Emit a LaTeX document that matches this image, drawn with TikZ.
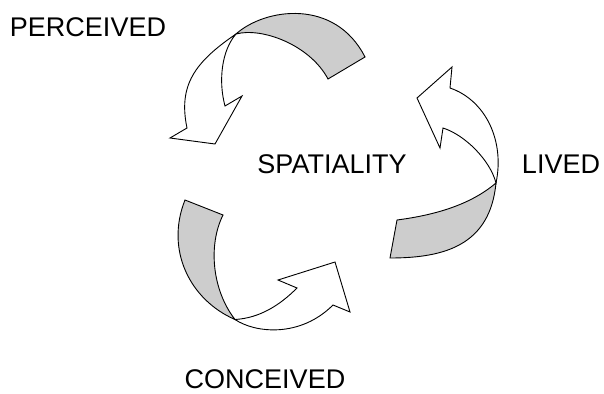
\documentclass[tikz,border=0pt]{standalone}
\usepackage{fontspec}
\setmainfont{Liberation Sans}
\definecolor{ribbongray}{RGB}{205,205,205}
\begin{document}
\begin{tikzpicture}[x=1pt,y=-1pt,
  ribbon/.style={draw=black,line width=0.9pt,line join=miter},
  face/.style={ribbon,fill=white},
  back/.style={ribbon,fill=ribbongray},
  label/.style={inner sep=0pt,font=\fontsize{27}{32}\selectfont}]
\useasboundingbox (0,0) rectangle (604,393);

% labels
\node[label] (perceived) at (88,27.5) {PERCEIVED};
\node[label] (spatiality) at (332,164) {SPATIALITY};
\node[label] (lived) at (561,164) {LIVED};
\node[label] (conceived) at (265,379) {CONCEIVED};

% named corners of the three ribbons
\coordinate (tc) at (236,34);
\coordinate (rc) at (496,183);
\coordinate (bc) at (235,319.5);

% upper ribbon, turning down towards the left
\draw[face] (tc) .. controls (195,62) and (178,85) .. (187,128)
  -- (170,138) -- (215,144) -- (242,96) -- (225,106)
  .. controls (218,80) and (222,50) .. (tc) -- cycle;
\draw[back] (tc) .. controls (265,8) and (335,-2) .. (365,57)
  -- (328,79) .. controls (310,45) and (262,27) .. (tc) -- cycle;

% right ribbon, turning up towards the left
\draw[face] (rc) .. controls (505,140) and (485,100) .. (450,88)
  -- (452,67) -- (417,98) -- (440,148) -- (443,128)
  .. controls (465,135) and (490,160) .. (rc) -- cycle;
\draw[back] (rc) .. controls (470,205) and (435,215) .. (397,220)
  -- (390,258) .. controls (445,258) and (490,245) .. (rc) -- cycle;

% lower ribbon, turning right
\draw[face] (bc) .. controls (255,333) and (300,338) .. (333,305)
  -- (350,312) -- (335,262) -- (278,280) -- (297,288)
  .. controls (280,305) and (260,318) .. (bc) -- cycle;
\draw[back] (bc) .. controls (190,300) and (165,250) .. (185,200)
  -- (223,215) .. controls (208,245) and (212,290) .. (bc) -- cycle;
\end{tikzpicture}
\end{document}
